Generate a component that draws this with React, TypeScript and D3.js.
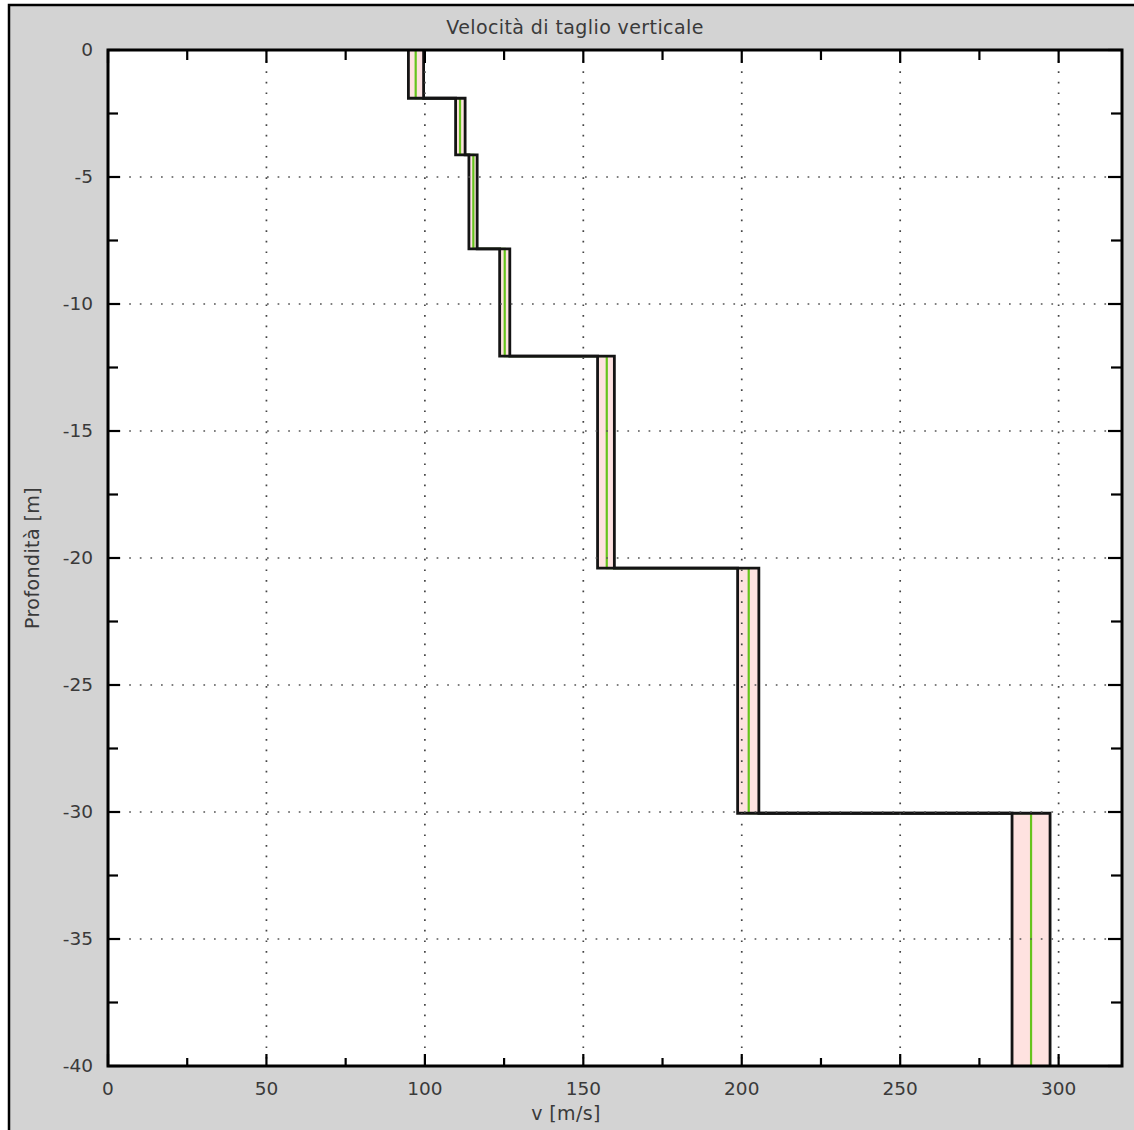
import React from "react";
import * as d3 from "d3";

// Layer data (depth in m, velocity in m/s)
const depthTop = [0, -1.9, -4.13, -7.83, -12.05, -20.4, -30.05];
const depthBottom = [-1.9, -4.13, -7.83, -12.05, -20.4, -30.05, -40];
const vMin = [94.8, 109.7, 113.9, 123.6, 154.5, 198.7, 285.3];
const vMax = [99.6, 112.7, 116.5, 126.8, 159.8, 205.4, 297.3];
const vMean = [97.1, 111.1, 115.3, 125.2, 157.4, 202.2, 291.3];

const xMajor = [0, 50, 100, 150, 200, 250, 300];
const xMinor = [25, 75, 125, 175, 225, 275];
const yMajor = [0, -5, -10, -15, -20, -25, -30, -35, -40];
const yMinor = [-2.5, -7.5, -12.5, -17.5, -22.5, -27.5, -32.5, -37.5];

const title = "Velocità di taglio verticale";
const xLabel = "v [m/s]";
const yLabel = "Profondità [m]";

const W = 1134;
const H = 1130;
const L = 108, R = 1122, T = 50, B = 1066;

export default function App() {
  const x = d3.scaleLinear().domain([0, 320]).range([L, R]);
  const y = d3.scaleLinear().domain([0, -40]).range([T, B]);

  const pts = depthTop.flatMap((t, i) => [
    { d: t, lo: vMin[i], hi: vMax[i], m: vMean[i] },
    { d: depthBottom[i], lo: vMin[i], hi: vMax[i], m: vMean[i] },
  ]);

  const area = d3
    .area<any>()
    .y((p) => y(p.d))
    .x0((p) => x(p.lo))
    .x1((p) => x(p.hi));
  const lineLo = d3.line<any>().x((p) => x(p.lo)).y((p) => y(p.d));
  const lineHi = d3.line<any>().x((p) => x(p.hi)).y((p) => y(p.d));
  const lineM = d3.line<any>().x((p) => x(p.m)).y((p) => y(p.d));

  const font = "'DejaVu Sans', Verdana, sans-serif";
  const txt = "#3a3a3a";
  const fs = 18.5;
  const fsL = 19;

  return (
    <div style={{ position: "absolute", left: 0, top: 0 }}>
      <svg width={W} height={H} style={{ display: "block", background: "#fff" }}>
        <rect x={9} y={5} width={W + 20} height={H + 20} fill="#d3d3d3" stroke="#000" strokeWidth={2.5} />
        <rect x={L} y={T} width={R - L} height={B - T} fill="#fff" />
        <path d={area(pts) || ""} fill="#fee2e0" />
        <path d={lineM(pts) || ""} fill="none" stroke="#66c41c" strokeWidth={2.2} />
        <path d={lineLo(pts) || ""} fill="none" stroke="#141414" strokeWidth={2.8} />
        <path d={lineHi(pts) || ""} fill="none" stroke="#141414" strokeWidth={2.8} />
        {/* grid */}
        {xMajor.map((v) => (
          <line key={"gx" + v} x1={x(v)} x2={x(v)} y1={T} y2={B} stroke="#444" strokeWidth={1.7} strokeDasharray="1.7,8.9" />
        ))}
        {yMajor.map((v) => (
          <line key={"gy" + v} x1={L} x2={R} y1={y(v)} y2={y(v)} stroke="#555" strokeWidth={1.7} strokeDasharray="1.7,8.9" />
        ))}
        {/* ticks */}
        {xMajor.map((v) => (
          <g key={"tx" + v}>
            <line x1={x(v)} x2={x(v)} y1={B} y2={B - 12} stroke="#000" strokeWidth={2.2} />
            <line x1={x(v)} x2={x(v)} y1={T} y2={T + 13} stroke="#000" strokeWidth={2.2} />
          </g>
        ))}
        {xMinor.map((v) => (
          <g key={"mx" + v}>
            <line x1={x(v)} x2={x(v)} y1={B} y2={B - 8} stroke="#000" strokeWidth={2.2} />
            <line x1={x(v)} x2={x(v)} y1={T} y2={T + 10} stroke="#000" strokeWidth={2.2} />
          </g>
        ))}
        {yMajor.map((v) => (
          <g key={"ty" + v}>
            <line x1={L} x2={L + 12} y1={y(v)} y2={y(v)} stroke="#000" strokeWidth={2.2} />
            <line x1={R} x2={R - 14} y1={y(v)} y2={y(v)} stroke="#000" strokeWidth={2.2} />
          </g>
        ))}
        {yMinor.map((v) => (
          <g key={"my" + v}>
            <line x1={L} x2={L + 10} y1={y(v)} y2={y(v)} stroke="#000" strokeWidth={2.2} />
            <line x1={R} x2={R - 11} y1={y(v)} y2={y(v)} stroke="#000" strokeWidth={2.2} />
          </g>
        ))}
        <rect x={L} y={T} width={R - L} height={B - T} fill="none" stroke="#000" strokeWidth={3} />
        {/* labels */}
        {xMajor.map((v) => (
          <text key={"lx" + v} x={x(v)} y={B + 29} textAnchor="middle" fontFamily={font} fontSize={fs} fill={txt}>
            {v}
          </text>
        ))}
        {yMajor.map((v) => (
          <text key={"ly" + v} x={93} y={y(v) + 6} textAnchor="end" fontFamily={font} fontSize={fs} fill={txt}>
            {v}
          </text>
        ))}
        <text x={575} y={34} textAnchor="middle" fontFamily={font} fontSize={fsL} letterSpacing={0.4} fill={txt}>
          {title}
        </text>
        <text x={566} y={1120} textAnchor="middle" fontFamily={font} fontSize={fsL} letterSpacing={0.4} fill={txt}>
          {xLabel}
        </text>
        <text
          transform={`translate(39, 558) rotate(-90)`}
          textAnchor="middle"
          fontFamily={font}
          fontSize={fsL}
          letterSpacing={0.4}
          fill={txt}
        >
          {yLabel}
        </text>
      </svg>
    </div>
  );
}
